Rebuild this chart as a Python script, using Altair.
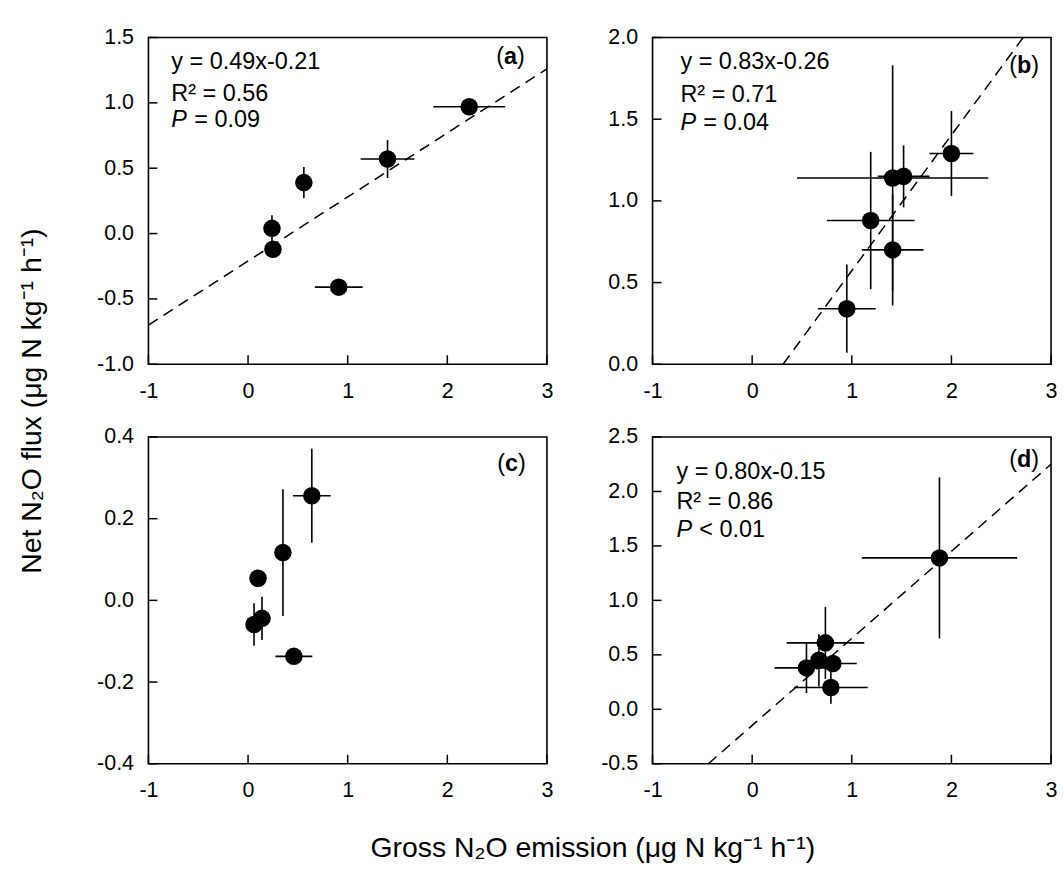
import altair as alt
import pandas as pd

FONT = "Liberation Sans"

# ---- data ----
x_ticks = [-1, 0, 1, 2, 3]

a_x = [2.22, 1.40, 0.56, 0.24, 0.25, 0.91]
a_y = [0.97, 0.57, 0.39, 0.04, -0.12, -0.41]
a_xerr = [0.36, 0.27, 0.0, 0.0, 0.0, 0.24]
a_yerr = [0.0, 0.145, 0.12, 0.10, 0.0, 0.05]
a_yticks = [-1.0, -0.5, 0.0, 0.5, 1.0, 1.5]
a_line_x = [-1.0, 3.0]
a_line_y = [-0.70, 1.26]

b_x = [2.00, 1.41, 1.52, 1.19, 1.41, 0.95]
b_y = [1.29, 1.14, 1.15, 0.88, 0.70, 0.34]
b_xerr = [0.22, 0.96, 0.26, 0.44, 0.31, 0.29]
b_yerr = [0.26, 0.69, 0.19, 0.42, 0.34, 0.27]
b_yticks = [0.0, 0.5, 1.0, 1.5, 2.0]
b_line_x = [0.31, 2.72]
b_line_y = [0.0, 2.0]

c_x = [0.64, 0.35, 0.10, 0.14, 0.06, 0.46]
c_y = [0.256, 0.117, 0.054, -0.044, -0.059, -0.137]
c_xerr = [0.19, 0.0, 0.0, 0.0, 0.0, 0.185]
c_yerr = [0.115, 0.155, 0.0, 0.053, 0.052, 0.0]
c_yticks = [-0.4, -0.2, 0.0, 0.2, 0.4]

d_x = [1.88, 0.735, 0.67, 0.81, 0.545, 0.79]
d_y = [1.39, 0.61, 0.45, 0.42, 0.38, 0.20]
d_xerr = [0.78, 0.39, 0.0, 0.24, 0.32, 0.37]
d_yerr = [0.74, 0.33, 0.24, 0.0, 0.23, 0.15]
d_yticks = [-0.5, 0.0, 0.5, 1.0, 1.5, 2.0, 2.5]
d_line_x = [-0.44, 3.0]
d_line_y = [-0.5, 2.25]

a_eq = ["y = 0.49x-0.21", "R\u00b2 = 0.56", "= 0.09"]
b_eq = ["y = 0.83x-0.26", "R\u00b2 = 0.71", "= 0.04"]
d_eq = ["y = 0.80x-0.15", "R\u00b2 = 0.86", "< 0.01"]

y_title = "Net N\u2082O flux (\u03bcg N kg\u207b\u00b9 h\u207b\u00b9)"
x_title = "Gross N\u2082O emission (\u03bcg N kg\u207b\u00b9 h\u207b\u00b9)"

W, H = 400, 328
FS = 21.5      # tick labels
EQ = 23.5      # annotations
TT = 28.5      # axis titles
TICK = 9
MINUS_FIX = "replace(datum.label, '\u2212', '-')"


def txt(s, px, py, size=EQ, weight="normal", style="normal", align="left",
        baseline="alphabetic", angle=0):
    return alt.Chart(pd.DataFrame({"t": [s]})).mark_text(
        align=align, baseline=baseline, font=FONT, fontSize=size,
        fontWeight=weight, fontStyle=style, color="black", angle=angle
    ).encode(x=alt.value(px), y=alt.value(py), text="t:N")


def panel(x, y, xerr, yerr, ydom, yticks, line=None, eq=None, eq_left=0,
          eq_base=None, letter="a", letter_x=0, letter_base=0, extras=()):
    xs = alt.Scale(domain=[-1, 3], nice=False, zero=False)
    ys = alt.Scale(domain=ydom, nice=False, zero=False)
    xax = alt.Axis(values=x_ticks, format="d", ticks=False, domain=False,
                   grid=False, labelPadding=16, title=None, labelFontSize=FS,
                   labelFont=FONT, labelColor="black", labelFlush=False,
                   labelExpr=MINUS_FIX)
    yax = alt.Axis(values=yticks, format=".1f", ticks=False, domain=False,
                   grid=False, labelPadding=15, title=None, labelFontSize=FS,
                   labelFont=FONT, labelColor="black", labelFlush=False,
                   labelExpr=MINUS_FIX)
    df = pd.DataFrame({"x": x, "y": y, "xerr": xerr, "yerr": yerr})
    base = alt.Chart(df)
    hbar = base.transform_filter("datum.xerr > 0").transform_calculate(
        x1="datum.x - datum.xerr", x2="datum.x + datum.xerr"
    ).mark_rule(color="black", strokeWidth=1.6).encode(
        x=alt.X("x1:Q", scale=xs, axis=xax), x2="x2:Q",
        y=alt.Y("y:Q", scale=ys, axis=yax))
    vbar = base.transform_filter("datum.yerr > 0").transform_calculate(
        y1="datum.y - datum.yerr", y2="datum.y + datum.yerr"
    ).mark_rule(color="black", strokeWidth=1.6).encode(
        x=alt.X("x:Q", scale=xs, axis=xax),
        y=alt.Y("y1:Q", scale=ys, axis=yax), y2="y2:Q")
    pts = base.mark_circle(size=310, color="black", opacity=1).encode(
        x=alt.X("x:Q", scale=xs, axis=xax), y=alt.Y("y:Q", scale=ys, axis=yax))
    xt = alt.Chart(pd.DataFrame({"t": x_ticks})).mark_rule(
        color="black", strokeWidth=1.5).encode(
        x=alt.X("t:Q", scale=xs, axis=xax), y=alt.value(H), y2=alt.value(H - TICK))
    yt = alt.Chart(pd.DataFrame({"t": yticks})).mark_rule(
        color="black", strokeWidth=1.5).encode(
        y=alt.Y("t:Q", scale=ys, axis=yax), x=alt.value(0), x2=alt.value(TICK))
    layers = [xt, yt]
    if line is not None:
        ldf = pd.DataFrame({"lx": line[0], "ly": line[1]})
        layers.append(alt.Chart(ldf).mark_line(
            color="black", strokeWidth=1.5, strokeDash=[11, 7], clip=True
        ).encode(x=alt.X("lx:Q", scale=xs, axis=xax),
                 y=alt.Y("ly:Q", scale=ys, axis=yax)))
    layers += [hbar, vbar, pts]
    if eq is not None:
        layers.append(txt(eq[0], eq_left, eq_base[0]))
        layers.append(txt(eq[1], eq_left, eq_base[1]))
        layers.append(txt("P", eq_left, eq_base[2], style="italic"))
        layers.append(txt(eq[2], eq_left + 23, eq_base[2]))
    adv_paren = 0.333 * EQ
    adv_letter = 0.61 * EQ if letter in ("b", "d") else 0.556 * EQ
    layers.append(txt("(", letter_x, letter_base))
    layers.append(txt(letter, letter_x + adv_paren, letter_base, weight="bold"))
    layers.append(txt(")", letter_x + adv_paren + adv_letter, letter_base))
    layers += list(extras)
    return alt.layer(*layers).properties(width=W, height=H)


pa = panel(a_x, a_y, a_xerr, a_yerr, [-1.0, 1.5], a_yticks,
           line=(a_line_x, a_line_y), eq=a_eq, eq_left=23,
           eq_base=[32, 63.5, 90], letter="a", letter_x=349, letter_base=27,
           extras=[txt(y_title, -117, 365, size=TT, align="center",
                       baseline="middle", angle=270)])
pb = panel(b_x, b_y, b_xerr, b_yerr, [0.0, 2.0], b_yticks,
           line=(b_line_x, b_line_y), eq=b_eq, eq_left=28,
           eq_base=[32, 65, 93], letter="b", letter_x=358, letter_base=36)
pc = panel(c_x, c_y, c_xerr, c_yerr, [-0.4, 0.4], c_yticks,
           letter="c", letter_x=350, letter_base=34,
           extras=[txt(x_title, 446, 422, size=TT, align="center")])
pd_ = panel(d_x, d_y, d_xerr, d_yerr, [-0.5, 2.5], d_yticks,
            line=(d_line_x, d_line_y), eq=d_eq, eq_left=24,
            eq_base=[42, 72, 100.5], letter="d", letter_x=358, letter_base=30)

chart = alt.concat(
    pa, pb, pc, pd_, columns=2, bounds="flush",
    spacing={"row": 73, "column": 106},
).properties(
    padding={"left": 17, "top": 24, "right": 5, "bottom": 5},
    background="white",
).configure_view(stroke="black", strokeWidth=1.6).resolve_scale(
    x="independent", y="independent")

chart.save("out.html", embed_options={"renderer": "svg", "actions": False})
